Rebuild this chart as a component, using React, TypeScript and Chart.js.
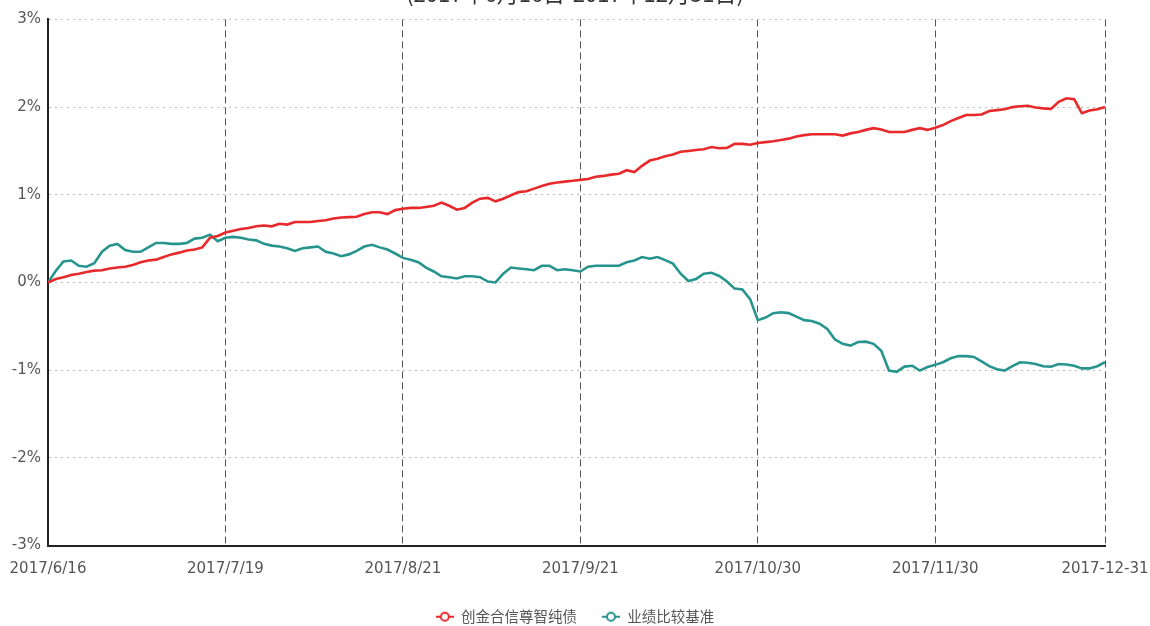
import React, { useEffect, useRef } from 'react';
import { Chart, registerables } from 'chart.js';

Chart.register(...registerables);

const TITLE = '(2017年6月16日-2017年12月31日)';
const SERIES_NAMES = ['创金合信尊智纯债', '业绩比较基准'];
const SERIES_COLORS = ['#e8292b', '#27948e'];
const TICK_INDEX = [0, 23, 46, 69, 92, 115, 137];
const TICK_LABELS = ['2017/6/16', '2017/7/19', '2017/8/21', '2017/9/21', '2017/10/30', '2017/11/30', '2017-12-31'];

// cumulative return, %
const fundReturn = [
  0.0, 0.04, 0.06, 0.085, 0.1, 0.12, 0.135, 0.14, 0.16, 0.17,
  0.18, 0.2, 0.23, 0.25, 0.26, 0.29, 0.32, 0.34, 0.365, 0.375,
  0.4, 0.51, 0.53, 0.57, 0.59, 0.61, 0.62, 0.64, 0.65, 0.64,
  0.67, 0.66, 0.69, 0.69, 0.69, 0.7, 0.71, 0.73, 0.74, 0.745,
  0.75, 0.78, 0.8, 0.8, 0.78, 0.825, 0.84, 0.85, 0.85, 0.86,
  0.875, 0.91, 0.875, 0.83, 0.85, 0.91, 0.955, 0.965, 0.925, 0.955,
  0.995, 1.03, 1.04, 1.07, 1.1, 1.125, 1.14, 1.15, 1.16, 1.17,
  1.18, 1.205, 1.215, 1.23, 1.24, 1.28, 1.26, 1.33, 1.39, 1.41,
  1.44, 1.46, 1.49, 1.5, 1.51, 1.52, 1.545, 1.53, 1.535, 1.58,
  1.58, 1.57, 1.59, 1.6, 1.61, 1.625, 1.64, 1.665, 1.68, 1.69,
  1.69, 1.69, 1.69, 1.675, 1.7, 1.715, 1.74, 1.76, 1.745, 1.715,
  1.715, 1.715, 1.74, 1.76, 1.74, 1.765, 1.795, 1.84, 1.875, 1.91,
  1.91, 1.915, 1.955, 1.965, 1.975, 2.0, 2.01, 2.015, 1.995, 1.985,
  1.98, 2.06, 2.1, 2.09, 1.93, 1.96, 1.975, 2.0,
];

const benchmarkReturn = [
  0.0, 0.13, 0.24, 0.25, 0.19, 0.18, 0.22, 0.35, 0.42, 0.44,
  0.37, 0.35, 0.35, 0.4, 0.45, 0.45, 0.44, 0.44, 0.45, 0.5,
  0.51, 0.545, 0.47, 0.51, 0.52, 0.51, 0.49, 0.48, 0.44, 0.42,
  0.41, 0.39, 0.36, 0.39, 0.4, 0.41, 0.35, 0.33, 0.3, 0.32,
  0.36, 0.41, 0.43, 0.4, 0.375, 0.33, 0.28, 0.26, 0.23, 0.17,
  0.125, 0.07, 0.06, 0.045, 0.07, 0.07, 0.06, 0.01, 0.0, 0.1,
  0.17, 0.16, 0.15, 0.14, 0.19, 0.19, 0.14, 0.15, 0.14, 0.125,
  0.18, 0.19, 0.19, 0.19, 0.19, 0.23, 0.25, 0.29, 0.27, 0.29,
  0.255, 0.215, 0.1, 0.017, 0.04, 0.1, 0.11, 0.074, 0.01, -0.07,
  -0.08, -0.19, -0.43, -0.4, -0.35, -0.34, -0.35, -0.39, -0.43, -0.44,
  -0.47, -0.53, -0.65, -0.7, -0.72, -0.68, -0.675, -0.7, -0.78, -1.005,
  -1.02, -0.96, -0.95, -1.005, -0.965, -0.94, -0.91, -0.865, -0.84, -0.84,
  -0.85, -0.9, -0.955, -0.99, -1.005, -0.955, -0.91, -0.915, -0.93, -0.955,
  -0.96, -0.93, -0.935, -0.95, -0.98, -0.98, -0.955, -0.91,
];

const SERIES_VALUES = [fundReturn, benchmarkReturn];

function makeIcon(color: string): HTMLCanvasElement {
  const c = document.createElement('canvas');
  c.width = 18;
  c.height = 12;
  const g = c.getContext('2d')!;
  g.strokeStyle = color;
  g.lineWidth = 2;
  g.beginPath();
  g.moveTo(0, 6);
  g.lineTo(18, 6);
  g.stroke();
  g.beginPath();
  g.arc(9, 6, 4, 0, Math.PI * 2);
  g.fillStyle = '#ffffff';
  g.fill();
  g.stroke();
  return c;
}

export default function App() {
  const ref = useRef<HTMLCanvasElement>(null);

  useEffect(() => {
    const icons = SERIES_COLORS.map(makeIcon);
    const tickFont = { family: 'DejaVu Sans', size: 15 };
    const chart = new Chart(ref.current!, {
      type: 'line',
      data: {
        datasets: SERIES_VALUES.map((vals, k) => ({
          label: SERIES_NAMES[k],
          data: vals.map((y, i) => ({ x: i, y })),
          borderColor: SERIES_COLORS[k],
          backgroundColor: SERIES_COLORS[k],
          borderWidth: 2.6,
          pointRadius: 0,
          tension: 0,
          fill: false,
        })),
      },
      options: {
        animation: false,
        responsive: true,
        maintainAspectRatio: false,
        layout: { padding: 0 },
        scales: {
          x: {
            type: 'linear',
            min: 0,
            max: TICK_INDEX[TICK_INDEX.length - 1],
            afterBuildTicks: (s: any) => {
              s.ticks = TICK_INDEX.map((v) => ({ value: v }));
            },
            afterFit: (s: any) => {
              s.height = 39;
              s.paddingLeft = 0;
              s.paddingRight = 45;
            },
            ticks: {
              autoSkip: false,
              maxRotation: 0,
              padding: 15,
              color: '#555',
              font: tickFont,
              callback: (v: any) => {
                const idx = TICK_INDEX.indexOf(Number(v));
                return idx >= 0 ? TICK_LABELS[idx] : '';
              },
            },
            grid: { color: '#555', lineWidth: 1, drawTicks: false },
            border: { display: true, color: '#222', width: 2, dash: [7, 4] },
          },
          y: {
            min: -3,
            max: 3,
            afterFit: (s: any) => {
              s.width = 48;
            },
            ticks: {
              stepSize: 1,
              padding: 7,
              color: '#555',
              font: tickFont,
              callback: (v: any) => v + '%',
            },
            grid: { color: '#bbbbbb', lineWidth: 1, drawTicks: false },
            border: { display: true, color: '#222', width: 2, dash: [2, 4] },
          },
        },
        plugins: {
          title: {
            display: true,
            text: TITLE,
            color: '#333',
            font: { family: 'Noto Sans CJK SC', size: 22, weight: 'normal' },
            padding: { top: 0, bottom: 13 },
          },
          legend: {
            display: true,
            position: 'bottom',
            labels: {
              usePointStyle: true,
              pointStyleWidth: 18,
              padding: 25,
              color: '#555',
              font: { family: 'Noto Sans CJK SC', size: 14.5 },
              generateLabels: (ch: any) =>
                ch.data.datasets.map((ds: any, i: number) => ({
                  text: ds.label,
                  fillStyle: '#fff',
                  strokeStyle: SERIES_COLORS[i],
                  lineWidth: 0,
                  pointStyle: icons[i],
                  fontColor: '#555',
                  hidden: false,
                  datasetIndex: i,
                })),
            },
          },
          tooltip: { enabled: false },
        },
      },
    } as any);
    return () => chart.destroy();
  }, []);

  return (
    <div style={{ position: 'fixed', left: 0, top: -20, width: 1150, height: 654 }}>
      <canvas ref={ref} />
    </div>
  );
}
